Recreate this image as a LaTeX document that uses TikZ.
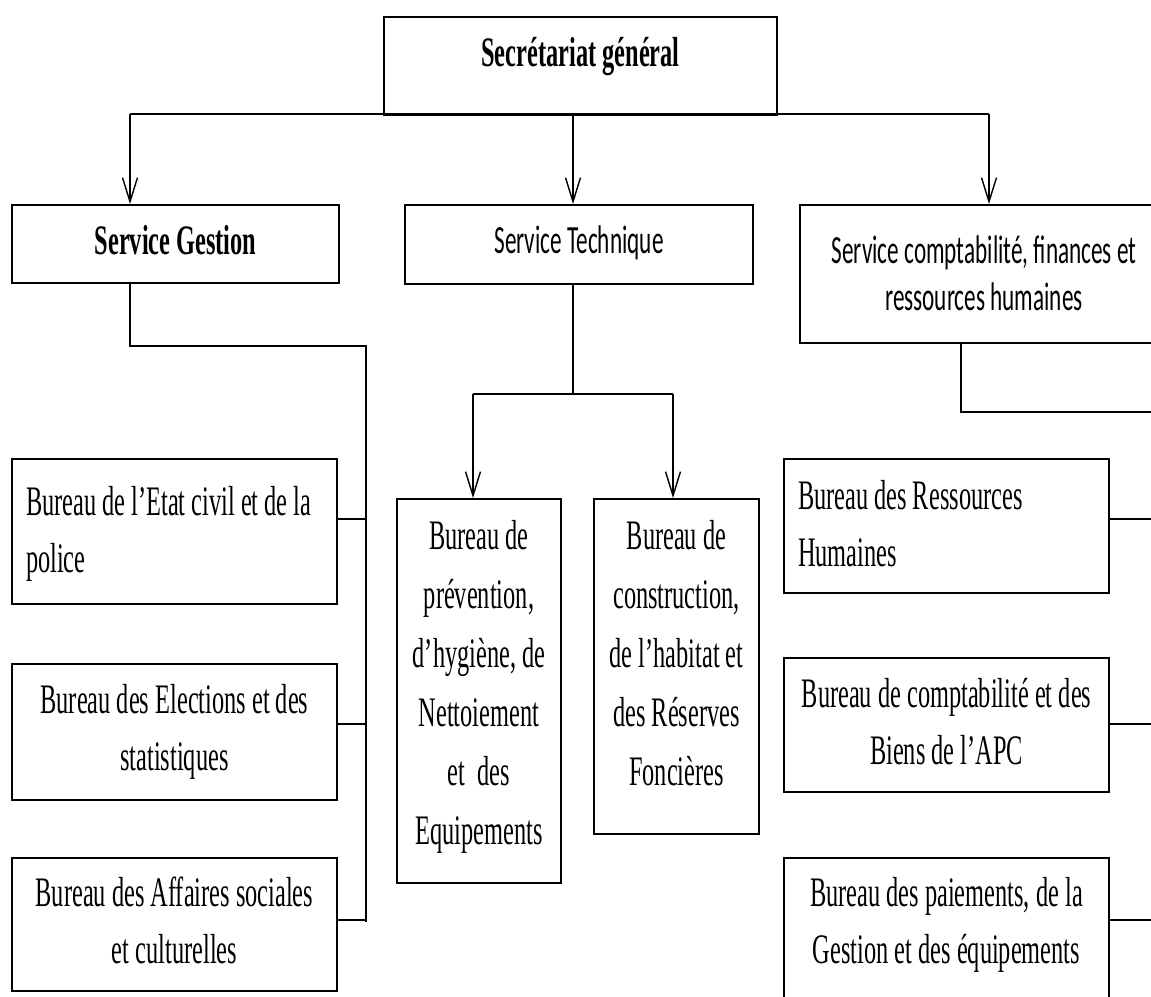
\documentclass[tikz,border=0pt]{standalone}
\usepackage{fontspec}
\setmainfont{Liberation Serif}
\newfontfamily\tnrf[FakeStretch=0.58]{Liberation Serif}
\newfontfamily\calibf[FakeStretch=0.58]{Carlito}
\usetikzlibrary{arrows.meta}
\newcommand{\btxt}[5]{\parbox[c][#2][t]{#1}{#4\vspace*{\dimexpr#3-\ht\strutbox\relax}\strut#5}}
\newcommand{\fTB}{\tnrf\bfseries\fontsize{42}{57}\selectfont\centering}
\newcommand{\fTC}{\tnrf\fontsize{42}{57}\selectfont\centering}
\newcommand{\fTL}{\tnrf\fontsize{42}{57}\selectfont\raggedright\leftskip=14pt\relax}
\newcommand{\fTV}{\tnrf\fontsize{42}{59}\selectfont\centering}
\newcommand{\fCC}{\calibf\fontsize{40}{47}\selectfont\centering}
\begin{document}
\begin{tikzpicture}[x=1pt,y=-1pt,
  box/.style={draw, line width=2pt, inner sep=0pt, anchor=north west},
  conn/.style={line width=1.4pt},
  arr/.style={line width=1.4pt, -{Straight Barb[length=24pt,width=15pt]}}]
\useasboundingbox (0,0) rectangle (1151,996);
\clip (0,0) rectangle (1151,996);
\fill[white] (0,0) rectangle (1151,996);

% boxes
\node[box] (sec) at (383,16) {\btxt{393pt}{98pt}{49pt}{\fTB}{Secrétariat général}};
\node[box] (gest) at (11,204) {\btxt{327pt}{78pt}{49pt}{\fTB}{Service Gestion}};
\node[box] (tech) at (404,204) {\btxt{348pt}{79pt}{48pt}{\fCC}{Service Technique}};
\node[box] (comp) at (799,204) {\btxt{368pt}{138pt}{58pt}{\fCC}{Service comptabilité, finances et\\ressources humaines}};
\node[box] (etat) at (11,458) {\btxt{325pt}{145pt}{56pt}{\fTL}{Bureau de l’Etat civil et de la\\police}};
\node[box] (elec) at (11,663) {\btxt{325pt}{136pt}{49pt}{\fTC}{Bureau des Elections et des\\statistiques}};
\node[box] (aff) at (11,857) {\btxt{325pt}{133pt}{48pt}{\fTC}{Bureau des Affaires sociales\\et culturelles}};
\node[box] (prev) at (396,498) {\btxt{164pt}{384pt}{50pt}{\fTV}{Bureau de\\prévention,\\d’hygiène, de\\Nettoiement\\et~ des\\Equipements}};
\node[box] (cons) at (593,498) {\btxt{165pt}{335pt}{50pt}{\fTV}{Bureau de\\construction,\\de l’habitat et\\des Réserves\\Foncières}};
\node[box] (rh) at (783,458) {\btxt{325pt}{134pt}{50pt}{\fTL}{Bureau des Ressources\\Humaines}};
\node[box] (cb) at (783,657) {\btxt{325pt}{134pt}{49pt}{\fTC}{Bureau de comptabilité et des\\Biens de l’APC}};
\node[box] (pai) at (783,857) {\btxt{325pt}{150pt}{48pt}{\fTC}{Bureau des paiements, de la\\Gestion et des équipements}};

% top bus
\coordinate (bl) at (130,114);
\coordinate (bm) at (573,114);
\coordinate (br) at (989,114);
\draw[conn] (bl) -- (br);
\draw[arr] (bl) -- (bl |- gest.north);
\draw[arr] (bm) -- (bm |- tech.north);
\draw[arr] (br) -- (br |- comp.north);

% Service Gestion branch
\coordinate (g1) at (130,346);
\coordinate (g2) at (366,346);
\coordinate (g3) at (366,922);
\draw[conn] (gest.south -| g1) -- (g1) -- (g2) -- (g3);
\draw[conn] (etat.east |- 0,519) -- (g2 |- 0,519);
\draw[conn] (elec.east |- 0,724) -- (g2 |- 0,724);
\draw[conn] (aff.east |- 0,920) -- (g2 |- 0,920);

% Service Technique branch
\coordinate (t1) at (573,394);
\coordinate (tl) at (473,394);
\coordinate (tr) at (673,394);
\draw[conn] (tech.south -| t1) -- (t1);
\draw[conn] (tl) -- (tr);
\draw[arr] (tl) -- (tl |- prev.north);
\draw[arr] (tr) -- (tr |- cons.north);

% Service comptabilite branch
\coordinate (c1) at (961,412);
\coordinate (c2) at (1170,412);
\coordinate (c3) at (1170,925);
\draw[conn] (comp.south -| c1) -- (c1) -- (c2) -- (c3);
\draw[conn] (rh.east |- 0,519) -- (c2 |- 0,519);
\draw[conn] (cb.east |- 0,724) -- (c2 |- 0,724);
\draw[conn] (pai.east |- 0,920) -- (c2 |- 0,920);
\end{tikzpicture}
\end{document}
